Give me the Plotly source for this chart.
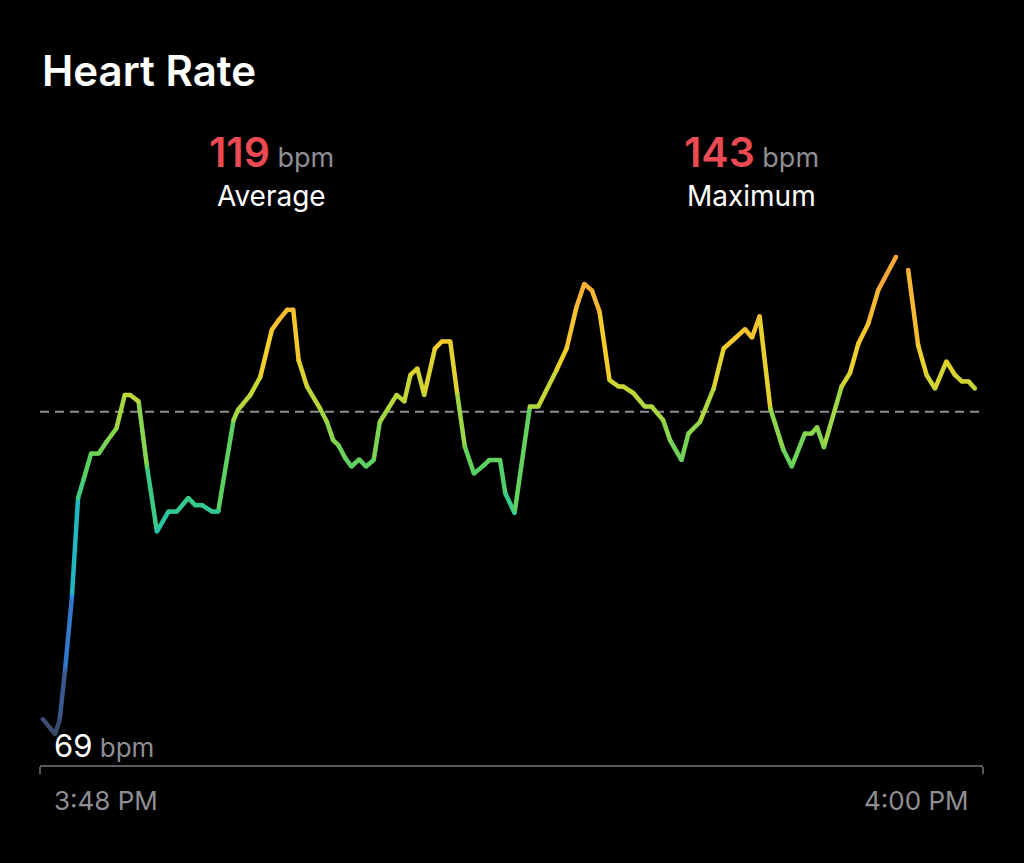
import plotly.graph_objects as go
from plotly.colors import sample_colorscale

# minutes after 3:48 PM and heart rate readings (None = gap in the recording)
minutes = [
    -0.12, 0.04, 0.10, 0.17, 0.26, 0.34, 0.41, 0.51, 0.61, 0.71,
    0.84, 0.95, 1.02, 1.13, 1.24, 1.37, 1.52, 1.63, 1.78, 1.87,
    1.96, 2.09, 2.17, 2.37, 2.43, 2.59, 2.72, 2.87, 2.96, 3.07,
    3.15, 3.22, 3.33, 3.50, 3.59, 3.67, 3.74, 3.83, 3.91, 4.01,
    4.10, 4.20, 4.28, 4.39, 4.50, 4.60, 4.68, 4.77, 4.86, 5.00,
    5.09, 5.20, 5.29, 5.39, 5.51, 5.63, 5.71, 5.85, 5.92, 6.04,
    6.24, 6.35, 6.59, 6.72, 6.85, 6.95, 7.05, 7.15, 7.28, 7.40,
    7.46, 7.59, 7.74, 7.83, 7.98, 8.07, 8.22, 8.31, 8.46, 8.64,
    8.77, 8.92, 9.05, 9.14, 9.24, 9.38, 9.55, 9.66, 9.83, 9.92,
    9.99, 10.08, 10.31, 10.42, 10.53, 10.66, 10.79, 11.02, None, 11.18,
    11.31, 11.42, 11.53, 11.68, 11.79, 11.88, 11.97, 12.05,
]
bpm = [
    71.3, 69.0, 71.2, 78.9, 90.3, 105.6, 108.4, 112.5, 112.5, 114.3,
    116.4, 121.6, 121.6, 120.6, 110.5, 100.4, 103.5, 103.5, 105.6, 104.5,
    104.5, 103.5, 103.5, 117.7, 119.3, 121.6, 124.4, 131.7, 133.2, 134.8,
    134.8, 127.0, 122.9, 119.5, 117.4, 114.6, 113.8, 111.8, 110.5, 111.6,
    110.5, 111.5, 117.4, 119.5, 121.6, 120.6, 124.7, 125.7, 121.6, 128.8,
    129.9, 129.9, 121.9, 113.6, 109.4, 110.6, 111.5, 111.5, 106.3, 103.3,
    119.8, 119.8, 125.5, 128.8, 135.3, 138.8, 137.8, 134.5, 123.9, 122.9,
    122.9, 121.9, 119.8, 119.8, 117.7, 114.6, 111.5, 115.6, 117.4, 122.6,
    128.8, 130.4, 131.8, 130.5, 133.8, 119.5, 113.1, 110.5, 115.6, 115.6,
    116.6, 113.5, 122.9, 125.0, 129.6, 132.7, 137.9, 143.0, None, 141.0,
    129.3, 124.7, 122.6, 126.8, 124.7, 123.7, 123.7, 122.6,
]

avg_bpm = 119
max_bpm = 143
min_bpm = 69
start_label = "3:48 PM"
end_label = "4:00 PM"

hr_scale = [
    [0.00, "#3a4868"],
    [0.12, "#3a62a0"],
    [0.30, "#2c8cf2"],
    [0.42, "#1fc4b0"],
    [0.55, "#52d065"],
    [0.68, "#aad840"],
    [0.80, "#f5d02a"],
    [1.00, "#f8a03c"],
]


def hr_color(v):
    t = (v - min_bpm) / (max_bpm - min_bpm)
    t = min(max(t, 0), 1)
    return sample_colorscale(hr_scale, [t])[0]


fig = go.Figure()

# one short trace per segment so the line follows the heart-rate colours
for i in range(len(minutes) - 1):
    if bpm[i] is None or bpm[i + 1] is None:
        continue
    c = hr_color((bpm[i] + bpm[i + 1]) / 2)
    fig.add_trace(go.Scatter(
        x=[minutes[i], minutes[i + 1]],
        y=[bpm[i], bpm[i + 1]],
        mode="lines",
        line=dict(color=c, width=4.5),
        hoverinfo="skip",
        showlegend=False,
    ))

# dots on the joints to round off the corners
pts = [(m, b) for m, b in zip(minutes, bpm) if b is not None]
fig.add_trace(go.Scatter(
    x=[p[0] for p in pts],
    y=[p[1] for p in pts],
    mode="markers",
    marker=dict(size=4.5, color=[hr_color(p[1]) for p in pts], line=dict(width=0)),
    hoverinfo="skip",
    showlegend=False,
))

# average line
fig.add_shape(
    type="line", xref="paper", yref="y",
    x0=0, x1=1, y0=avg_bpm, y1=avg_bpm,
    line=dict(color="#8e8e93", width=2, dash="9px,6px"),
    layer="below",
)

font = "Inter, Roboto, 'Noto Sans', sans-serif"
red = "#eb4a52"
grey = "#8e8e93"

fig.add_annotation(
    text="Heart Rate", xref="paper", yref="paper", x=0.0, y=1.299,
    xanchor="left", yanchor="middle", showarrow=False,
    font=dict(family=font, size=42, color="white", weight=600),
)
for xc, val, lab in [(0.245, avg_bpm, "Average"), (0.755, max_bpm, "Maximum")]:
    fig.add_annotation(
        text=f"<span style='color:{red};font-size:41px;font-weight:600'>{val}</span>"
             f" <span style='color:{grey};font-size:27px'>bpm</span>",
        xref="paper", yref="paper", x=xc, y=1.146,
        xanchor="center", yanchor="middle", showarrow=False,
        font=dict(family=font, size=27, color=grey),
    )
    fig.add_annotation(
        text=lab, xref="paper", yref="paper", x=xc, y=1.0636,
        xanchor="center", yanchor="middle", showarrow=False,
        font=dict(family=font, size=28, color="white"),
    )

fig.add_annotation(
    text=f"<span style='color:white;font-size:31px'>{min_bpm}</span>"
         f" <span style='color:{grey};font-size:26px'>bpm</span>",
    xref="paper", yref="paper", x=0.0127, y=0.037,
    xanchor="left", yanchor="middle", showarrow=False,
    font=dict(family=font, size=26, color=grey),
)
fig.add_annotation(
    text=start_label, xref="paper", yref="paper", x=0.0127, y=-0.066,
    xanchor="left", yanchor="middle", showarrow=False,
    font=dict(family=font, size=26, color=grey),
)
fig.add_annotation(
    text=end_label, xref="paper", yref="paper", x=0.987, y=-0.066,
    xanchor="right", yanchor="middle", showarrow=False,
    font=dict(family=font, size=26, color=grey),
)

x_range = [-0.157, 12.157]
fig.update_xaxes(
    range=x_range, showgrid=False, zeroline=False,
    showline=True, linecolor="#5a5a5e", linewidth=1.5,
    tickmode="array", tickvals=x_range, ticks="outside",
    ticklen=7, tickwidth=1.5, tickcolor="#5a5a5e", showticklabels=False,
)
fig.update_yaxes(
    range=[64.19, 147.19], showgrid=False, zeroline=False,
    showline=False, showticklabels=False,
)

fig.update_layout(
    width=1024, height=863,
    margin=dict(l=40, r=41, t=230, b=98),
    paper_bgcolor="black", plot_bgcolor="black",
    showlegend=False,
)

# black page with no body margin, so the figure sits at the window corner
fig.write_html(
    "out.html",
    config={"displayModeBar": False},
    post_script="document.body.style.margin='0';document.body.style.background='black';",
)
